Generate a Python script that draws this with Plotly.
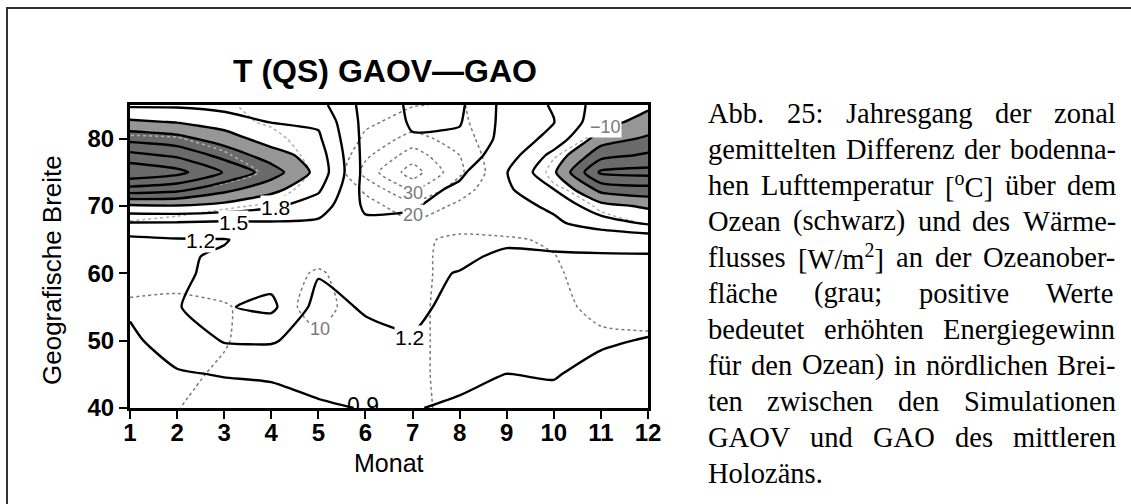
import plotly.graph_objects as go

# ---------------- data ----------------
months = list(range(1, 13))
lats = [40, 45, 50, 55, 60, 62.5, 65, 67.5, 70, 72.5, 75, 77.5, 80, 82.5, 85]

# zonal mean near-surface air temperature difference over ocean [degC] (rows = latitude, cols = month 1..12)
t_400 = [0.70, 0.75, 0.80, 0.80, 0.87, 0.91, 0.91, 0.87, 0.83, 0.85, 0.80, 0.78]
t_450 = [0.80, 0.88, 0.91, 0.93, 0.98, 1.02, 1.00, 0.95, 0.898, 0.91, 0.85, 0.83]
t_500 = [0.86, 1.00, 1.22, 1.23, 1.05, 1.12, 1.18, 1.02, 0.98, 0.95, 0.92, 0.89]
t_550 = [0.93, 1.17, 1.48, 1.56, 1.10, 1.23, 1.26, 1.12, 1.05, 1.02, 1.00, 0.98]
t_600 = [1.02, 1.16, 1.26, 1.40, 1.22, 1.30, 1.25, 1.19, 1.10, 1.08, 1.05, 1.05]
t_625 = [1.08, 1.18, 1.22, 1.33, 1.28, 1.30, 1.28, 1.25, 1.15, 1.17, 1.18, 1.18]
t_650 = [1.13, 1.18, 1.19, 1.28, 1.35, 1.30, 1.30, 1.30, 1.25, 1.27, 1.28, 1.30]
t_675 = [1.49, 1.48, 1.45, 1.47, 1.45, 1.25, 1.25, 1.32, 1.35, 1.45, 1.65, 1.85]
t_700 = [2.05, 2.08, 2.00, 1.85, 1.65, 1.15, 1.18, 1.30, 1.40, 1.55, 2.00, 2.15]
t_725 = [2.90, 2.80, 2.50, 2.20, 1.85, 1.10, 1.10, 1.25, 1.45, 1.80, 2.50, 2.60]
t_750 = [3.55, 3.40, 2.98, 2.55, 2.00, 1.10, 1.05, 1.15, 1.49, 2.05, 3.05, 3.10]
t_775 = [3.10, 2.95, 2.60, 2.25, 1.95, 1.10, 1.00, 1.05, 1.35, 1.90, 2.60, 2.75]
t_800 = [2.60, 2.50, 2.25, 1.95, 1.85, 1.10, 0.92, 0.95, 1.30, 1.60, 2.25, 2.45]
t_825 = [2.15, 2.08, 1.95, 1.79, 1.75, 1.10, 0.87, 0.88, 1.30, 1.49, 2.00, 2.20]
t_850 = [1.75, 1.75, 1.70, 1.65, 1.60, 1.10, 0.85, 0.85, 1.30, 1.53, 1.93, 2.05]

# surface heat flux difference [W/m2] (positive = energy gain for the ocean)
q_400 = [12, 10.5, 3, 0, 2, 5, 7, 14, 16, 18, 17, 16]
q_450 = [14, 13, 8, 2, 3, 5, 7, 15, 17, 19, 18, 16]
q_500 = [15, 14, 11, 3, 8, 4, 7, 15, 17, 17, 13, 12]
q_550 = [12, 12, 11, 5, 14, 4, 7, 15, 16, 14, 6, 5]
q_600 = [5, 7, 4, 4, 11.5, 3, 7, 14, 15, 12, 3, 1]
q_625 = [2, 3, 2, 2, 6, 3, 7, 14, 13, 10.5, 2, -2]
q_650 = [-5, -4, -3, -2, 2, 3, 7, 13, 12, 8, 0, -6]
q_675 = [-9.5, -8, -6, -5, -2, 2, 9, 4, 1, -1, -8, -10.5]
q_700 = [-14, -13, -11, -9, -3, 6, 16, 8, 3, -5, -11, -12]
q_725 = [-22, -21, -18, -14, -6, 12, 32, 14, 2, -9, -13, -14]
q_750 = [-29, -28, -24, -18.5, -8, 24, 45, 22, 0, -12, -16, -17]
q_775 = [-26, -25, -21, -15, -7, 18, 35, 20, -1, -9.5, -15, -16]
q_800 = [-21, -20.5, -17, -12, -6, 12, 24, 15, 0, -6, -12, -14]
q_825 = [-16, -15, -12, -9, -4, 8, 14, 12, 2, -3, -8, -12]
q_850 = [-12, -11, -11.5, -6, -2, 5, 9.5, 11, 3, -1, -5, -9]

x_ticks = list(range(1, 13))
y_ticks = [40, 50, 60, 70, 80]

title_text = "T (QS) GAOV\u2014GAO"
x_title = "Monat"
y_title = "Geografische Breite"

caption_lines = [
    "Abb. 25: Jahresgang der zonal",
    "gemittelten Differenz der bodenna-",
    "hen Lufttemperatur [<sup>o</sup>C] über dem",
    "Ozean (schwarz) und des Wärme-",
    "flusses [W/m<sup>2</sup>] an der Ozeanober-",
    "fläche (grau; positive Werte",
    "bedeutet erhöhten Energiegewinn",
    "für den Ozean) in nördlichen Brei-",
    "ten zwischen den Simulationen",
    "GAOV und GAO des mittleren",
    "Holozäns.",
]

# contour labels: text, month, latitude
t_labels = [("1.2", 2.5, 64.9), ("1.5", 3.2, 67.6), ("1.8", 4.1, 69.8), ("1.2", 6.94, 50.4)]
q_labels = [("20", 7.0, 68.6), ("30", 7.0, 72.0), ("10", 5.03, 51.8), ("\u221210", 11.1, 81.8)]
t_edge_labels = [("0.9", 5.95, 40.0)]

T = [t_400, t_450, t_500, t_550, t_600, t_625, t_650, t_675, t_700, t_725, t_750, t_775, t_800, t_825, t_850]
Q = [q_400, q_450, q_500, q_550, q_600, q_625, q_650, q_675, q_700, q_725, q_750, q_775, q_800, q_825, q_850]

# ---------------- layout geometry (pixels) ----------------
W, H = 1131, 504
PL, PR, PT, PB = 130, 648, 105, 408


def px_x(px):
    return (px - PL) / (PR - PL)


def px_y(py):
    return (PB - py) / (PB - PT)


SANS = "Liberation Sans, Arial, sans-serif"
SERIF = "Liberation Serif, Times New Roman, serif"
SMOOTH = 0.6

fig = go.Figure()

# shading of the strongest warming (plotly shades the region outside the kept one)
fig.add_trace(go.Contour(
    x=months, y=lats, z=T, showscale=False, showlegend=False, hoverinfo="skip",
    contours=dict(type="constraint", operation="<", value=2.1),
    fillcolor="#969696", line=dict(width=0, smoothing=SMOOTH)))
fig.add_trace(go.Contour(
    x=months, y=lats, z=T, showscale=False, showlegend=False, hoverinfo="skip",
    contours=dict(type="constraint", operation="<", value=2.4),
    fillcolor="#6a6a6a", line=dict(width=0, smoothing=SMOOTH)))

# heat flux (grey dotted)
fig.add_trace(go.Contour(
    x=months, y=lats, z=Q, showscale=False, showlegend=False, hoverinfo="skip",
    colorscale=[[0, "#7a7a7a"], [1, "#7a7a7a"]],
    contours=dict(coloring="lines", start=10, end=40, size=10),
    line=dict(width=1.5, dash="dot", smoothing=SMOOTH)))
fig.add_trace(go.Contour(
    x=months, y=lats, z=Q, showscale=False, showlegend=False, hoverinfo="skip",
    colorscale=[[0, "#b0b0b0"], [1, "#b0b0b0"]],
    contours=dict(coloring="lines", start=-20, end=-10, size=10),
    line=dict(width=1.5, dash="dot", smoothing=SMOOTH)))

# temperature (black)
fig.add_trace(go.Contour(
    x=months, y=lats, z=T, showscale=False, showlegend=False, hoverinfo="skip",
    colorscale=[[0, "#000000"], [1, "#000000"]],
    contours=dict(coloring="lines", start=0.9, end=3.3, size=0.3),
    line=dict(width=2.4, smoothing=SMOOTH)))

# label clipped at the lower axis
fig.add_trace(go.Scatter(
    x=[l[1] for l in t_edge_labels], y=[l[2] for l in t_edge_labels],
    text=[l[0] for l in t_edge_labels], mode="text", textposition="middle center",
    textfont=dict(family=SANS, size=23, color="#000"), cliponaxis=True,
    showlegend=False, hoverinfo="skip"))

annotations = []
for txt, m, la in t_labels:
    annotations.append(dict(x=m, y=la, xref="x", yref="y", text=txt, showarrow=False,
                            font=dict(family=SANS, size=21, color="#000"),
                            bgcolor="white", borderpad=0, xanchor="center", yanchor="middle"))
for txt, m, la in q_labels:
    annotations.append(dict(x=m, y=la, xref="x", yref="y", text=txt, showarrow=False,
                            font=dict(family=SANS, size=18, color="#7a7a7a"),
                            bgcolor="white", borderpad=0, xanchor="center", yanchor="middle"))

# titles
annotations.append(dict(x=px_x(385), y=px_y(71), xref="paper", yref="paper", text=title_text,
                        showarrow=False, font=dict(family=SANS, size=32, color="#000", weight="bold"),
                        xanchor="center", yanchor="middle"))
annotations.append(dict(x=px_x(389), y=px_y(463), xref="paper", yref="paper", text=x_title,
                        showarrow=False, font=dict(family=SANS, size=25, color="#000"),
                        xanchor="center", yanchor="middle"))
annotations.append(dict(x=px_x(52), y=px_y(270), xref="paper", yref="paper", text=y_title,
                        showarrow=False, textangle=-90, font=dict(family=SANS, size=26, color="#000"),
                        xanchor="center", yanchor="middle"))

# caption (justified, Times metrics)
TIMES = {
    ' ': 250, '!': 333, '(': 333, ')': 333, ',': 250, '-': 333, '.': 250, '/': 278, ':': 278, ';': 278,
    '[': 333, ']': 333,
    'A': 722, 'B': 667, 'C': 667, 'D': 722, 'E': 611, 'F': 556, 'G': 722, 'H': 722, 'I': 333, 'J': 389,
    'K': 722, 'L': 611, 'M': 889, 'N': 722, 'O': 722, 'P': 556, 'Q': 722, 'R': 667, 'S': 556, 'T': 611,
    'U': 722, 'V': 722, 'W': 944, 'X': 722, 'Y': 722, 'Z': 611,
    'a': 444, 'b': 500, 'c': 444, 'd': 500, 'e': 444, 'f': 333, 'g': 500, 'h': 500, 'i': 278, 'j': 278,
    'k': 500, 'l': 278, 'm': 778, 'n': 500, 'o': 500, 'p': 500, 'q': 500, 'r': 333, 's': 389, 't': 278,
    'u': 500, 'v': 500, 'w': 722, 'x': 500, 'y': 500, 'z': 444, 'ä': 444, 'ö': 500, 'ü': 500,
}
for d in "0123456789":
    TIMES[d] = 500


def word_width(html, size):
    w, scale, i = 0.0, 1.0, 0
    while i < len(html):
        if html.startswith("<sup>", i):
            scale = 0.7
            i += 5
            continue
        if html.startswith("</sup>", i):
            scale = 1.0
            i += 6
            continue
        w += TIMES.get(html[i], 500) * scale
        i += 1
    return w * size / 1000.0


CAP_SIZE = 28.5
CAP_X0, CAP_X1 = 707, 1115
CAP_Y0, CAP_DY = 113, 36
for li, line in enumerate(caption_lines):
    words = line.split(" ")
    widths = [word_width(w, CAP_SIZE) for w in words]
    last = li == len(caption_lines) - 1
    if last or len(words) == 1:
        gap = TIMES[' '] * CAP_SIZE / 1000.0
    else:
        gap = (CAP_X1 - CAP_X0 - sum(widths)) / (len(words) - 1)
    xpos = CAP_X0
    for w, ww in zip(words, widths):
        annotations.append(dict(x=px_x(xpos), y=px_y(CAP_Y0 + li * CAP_DY), xref="paper", yref="paper",
                                text=w, showarrow=False, xanchor="left", yanchor="middle", borderpad=0,
                                font=dict(family=SERIF, size=CAP_SIZE, color="#000")))
        xpos += ww + gap

shapes = [dict(type="rect", xref="paper", yref="paper",
               x0=px_x(7), x1=px_x(1145), y0=px_y(8), y1=px_y(520),
               line=dict(color="#333333", width=2), fillcolor="rgba(0,0,0,0)", layer="above")]

axis_common = dict(showgrid=False, zeroline=False, showline=True, linewidth=3, linecolor="#000",
                   mirror=True, ticks="outside", ticklen=8, tickwidth=2, tickcolor="#000",
                   tickfont=dict(family=SANS, size=24, color="#000", weight="bold"))

fig.update_layout(
    width=W, height=H, margin=dict(l=PL, r=W - PR, t=PT, b=H - PB),
    paper_bgcolor="white", plot_bgcolor="white", showlegend=False,
    xaxis=dict(range=[1, 12], tickvals=x_ticks, ticktext=[str(v) for v in x_ticks],
               ticklabelstandoff=-7, **axis_common),
    yaxis=dict(range=[40, 85], tickvals=y_ticks, ticktext=[str(v) for v in y_ticks], **axis_common),
    annotations=annotations, shapes=shapes,
)

fig.write_html("out.html")
